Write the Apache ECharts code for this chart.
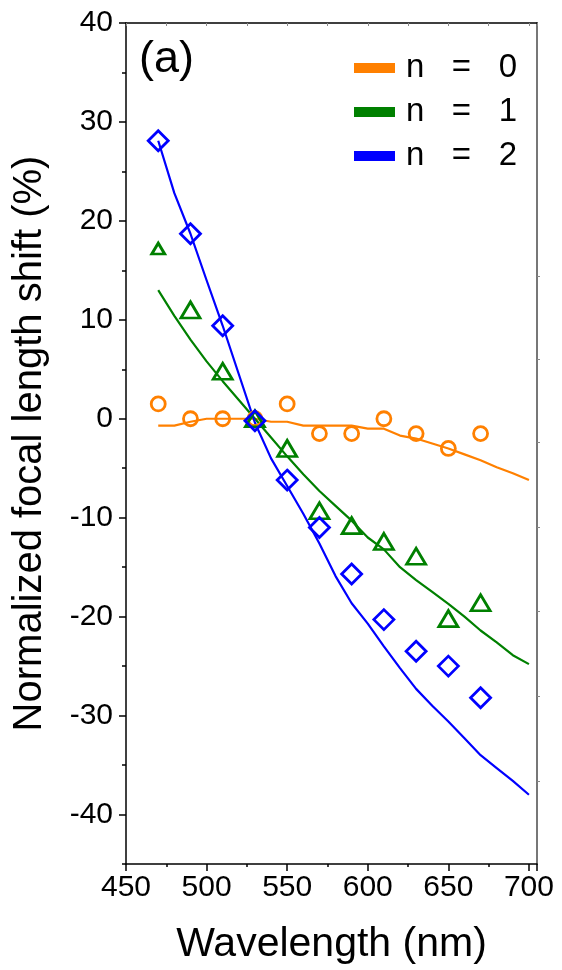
<!DOCTYPE html>
<html>
<head>
<meta charset="utf-8">
<script src="https://cdn.jsdelivr.net/npm/echarts@6/dist/echarts.min.js"></script>
<style>
  html, body { margin: 0; padding: 0; background: #fff; }
  #chart { width: 562px; height: 970px; }
</style>
</head>
<body>
<div id="chart"></div>
<script>
// measured points (nm, %)
var wlPoints = [470, 490, 510, 530, 550, 570, 590, 610, 630, 650, 670];
var n0Points = [1.5, 0, 0, 0, 1.5, -1.5, -1.5, 0, -1.5, -3, -1.5];
var n1Points = [17.2, 11.0, 4.8, 0, -3.0, -9.3, -10.8, -12.4, -13.9, -20.2, -18.6];
var n2Points = [28.1, 18.7, 9.4, -0.2, -6.2, -11.0, -15.7, -20.3, -23.5, -25.0, -28.2];

// simulated curves, 10 nm steps
var wlSim = [470, 480, 490, 500, 510, 520, 530, 540, 550, 560, 570, 580,
             590, 600, 610, 620, 630, 640, 650, 660, 670, 680, 690, 700];
var n0Sim = [-0.7, -0.7, -0.3, 0, 0, 0, 0, -0.3, -0.3, -0.7, -0.7, -0.7,
             -0.7, -1.0, -1.0, -1.7, -2.0, -2.5, -3.0, -3.6, -4.2, -4.9, -5.5, -6.2];
var n1Sim = [13.0, 10.4, 8.0, 5.8, 3.8, 1.9, 0, -1.9, -3.8, -5.6, -7.3, -8.8,
             -10.3, -12.0, -13.2, -15.0, -16.3, -17.5, -18.7, -20.0, -21.4, -22.6, -23.9, -24.8];
var n2Sim = [28.1, 22.8, 18.7, 14.0, 9.4, 4.5, -0.4, -4.0, -6.8, -9.6, -12.6, -15.9,
             -18.65, -20.7, -23.0, -25.2, -27.3, -29.0, -30.6, -32.3, -34.0, -35.3, -36.6, -38.0];

var legendNames = ['n   =   0', 'n   =   1', 'n   =   2'];
var yMajor = [-40, -30, -20, -10, 0, 10, 20, 30, 40];
var yMinor = [-45, -35, -25, -15, -5, 5, 15, 25, 35];
var rightTicks = [14.4, 6.0, -2.4, -11.0, -19.5, -28.0, -36.6];

var FONT = 'Liberation Sans';
var ORANGE = '#FF8000', GREEN = '#008000', BLUE = '#0000FF';

function pairs(xs, ys) {
    return xs.map(function (x, i) { return [x, ys[i]]; });
}

function lineSeries(name, ys, color) {
    return {
        name: name,
        type: 'line',
        data: pairs(wlSim, ys),
        symbol: 'none',
        smooth: false,
        color: color,
        lineStyle: { width: 2.2, color: color },
        z: 2
    };
}

function pointSeries(name, ys, color, symbol, size) {
    return {
        name: name,
        type: 'scatter',
        data: pairs(wlPoints, ys),
        symbol: symbol,
        symbolSize: size,
        itemStyle: { color: 'transparent', borderColor: color, borderWidth: 2.8, opacity: 1 },
        z: 3
    };
}

var myChart = echarts.init(document.getElementById('chart'));
var option = {
    animation: false,
    grid: { left: 126, right: 25, top: 23, bottom: 105 },
    title: {
        text: '(a)',
        left: 134,
        top: 32,
        textStyle: { fontFamily: FONT, fontSize: 45, fontWeight: 'normal', color: '#000' }
    },
    legend: {
        data: legendNames,
        orient: 'vertical',
        left: 349,
        top: 46,
        icon: 'rect',
        itemWidth: 41,
        itemHeight: 10,
        itemGap: 10,
        textStyle: { fontFamily: FONT, fontSize: 33, color: '#000', lineHeight: 34, padding: [0, 0, 0, 6] }
    },
    xAxis: [{
        type: 'value',
        min: 450,
        max: 705,
        interval: 50,
        name: 'Wavelength (nm)',
        nameLocation: 'middle',
        nameGap: 60,
        nameTextStyle: { fontFamily: FONT, fontSize: 41, color: '#000' },
        axisLine: { onZero: false, lineStyle: { color: '#000', width: 1.5 } },
        axisTick: { inside: false, length: 7, lineStyle: { color: '#000', width: 1.5 } },
        minorTick: { show: true, splitNumber: 2, length: 3, lineStyle: { color: '#000', width: 1.5 } },
        axisLabel: { fontFamily: FONT, fontSize: 30, color: '#000', margin: 9 },
        splitLine: { show: false }
    }, {
        type: 'value',
        position: 'top',
        min: 450,
        max: 705,
        interval: 25,
        axisLine: { onZero: false, lineStyle: { color: '#000', width: 1.5 } },
        axisTick: { inside: true, length: 3, lineStyle: { color: '#888', width: 1 } },
        axisLabel: { show: false },
        splitLine: { show: false }
    }],
    yAxis: [{
        type: 'value',
        min: -45,
        max: 40,
        name: 'Normalized focal length shift (%)',
        nameLocation: 'middle',
        nameGap: 76,
        nameRotate: 90,
        nameTextStyle: { fontFamily: FONT, fontSize: 40, color: '#000' },
        axisLine: { onZero: false, lineStyle: { color: '#000', width: 1.5 } },
        axisTick: { inside: false, length: 7, customValues: yMajor, lineStyle: { color: '#000', width: 1.5 } },
        axisLabel: { fontFamily: FONT, fontSize: 30, color: '#000', margin: 13, customValues: yMajor },
        splitLine: { show: false }
    }, {
        type: 'value',
        position: 'left',
        min: -45,
        max: 40,
        axisLine: { show: false },
        axisTick: { inside: false, length: 4, customValues: yMinor, lineStyle: { color: '#000', width: 1.5 } },
        axisLabel: { show: false },
        splitLine: { show: false }
    }, {
        type: 'value',
        position: 'right',
        min: -45,
        max: 40,
        axisLine: { onZero: false, lineStyle: { color: '#777', width: 2 } },
        axisTick: { inside: false, length: 3, customValues: rightTicks, lineStyle: { color: '#888', width: 1 } },
        axisLabel: { show: false },
        splitLine: { show: false }
    }],
    series: [
        lineSeries(legendNames[0], n0Sim, ORANGE),
        lineSeries(legendNames[1], n1Sim, GREEN),
        lineSeries(legendNames[2], n2Sim, BLUE),
        pointSeries('n0 data', n0Points, ORANGE, 'circle', 14),
        pointSeries('n1 data', n1Points, GREEN, 'triangle', function (v, p) {
            return p.dataIndex === 0 ? [13, 11] : [19, 16];
        }),
        pointSeries('n2 data', n2Points, BLUE, 'diamond', 20)
    ]
};
myChart.setOption(option);
window.addEventListener('resize', function () {
    myChart.resize();
});
</script>
</body>
</html>
